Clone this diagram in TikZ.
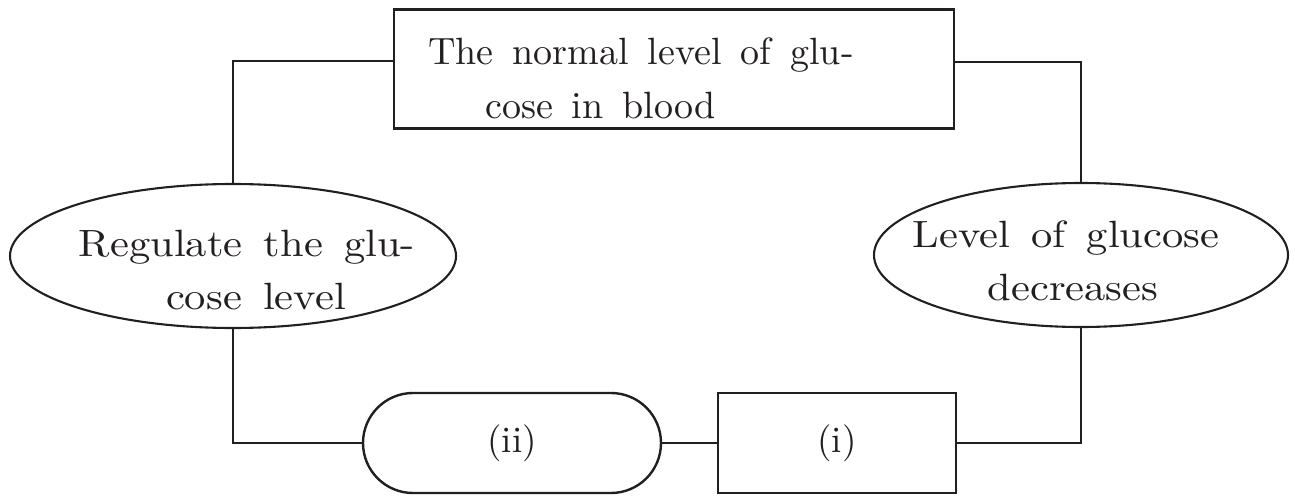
\documentclass[tikz,border=0pt]{standalone}
\usepackage{fontspec}
\setmainfont{lmroman10-regular.otf}[WordSpace=1.5]
\newfontfamily\ellfont{lmroman10-regular.otf}[WordSpace=1.5, FakeStretch=1.12]
\usetikzlibrary{shapes.geometric}
\definecolor{ink}{HTML}{231F20}
\begin{document}
\begin{tikzpicture}[x=1pt,y=-1pt,
  line width=2.4pt, draw=ink, color=ink,
  bigtext/.style={font=\fontsize{38}{54}\selectfont, inner sep=0pt},
  elltext/.style={font=\ellfont\fontsize{38}{53}\selectfont, inner sep=0pt},
  boxnode/.style={draw=ink, rectangle, inner sep=0pt, line width=2.5pt},
  ellnode/.style={draw=ink, ellipse, inner sep=0pt, line width=2.1pt},
  stadium/.style={draw=ink, rectangle, rounded corners=50pt, inner sep=0pt, line width=2.4pt},
  smalltext/.style={font=\fontsize{37}{40}\selectfont},
  conn/.style={draw=ink, line width=2.4pt}]
\useasboundingbox (0,0) rectangle (1295,495);

% shapes
\node[boxnode, minimum width=560pt, minimum height=119pt] (top) at (674,69) {};
\node[ellnode, minimum width=446pt, minimum height=144pt] (reg) at (233,256) {};
\node[ellnode, minimum width=414pt, minimum height=144pt] (dec) at (1081,255) {};
\node[stadium, minimum width=298pt, minimum height=100pt, smalltext] (boxii) at (512,443) {(ii)};
\node[boxnode, minimum width=238pt, minimum height=100pt, smalltext] (boxi) at (837,443) {(i)};

% texts (base anchor = baseline of the last line)
\node[bigtext, align=left, anchor=base west] (toptext) at (427,118)
  {The normal level of glu-\\\hspace*{57pt}cose in blood};
\node[elltext, align=center, anchor=base] (regtext) at (247,309)
  {Regulate the glu-\\\hspace*{18pt}cose level};
\node[elltext, align=center, anchor=base] (dectext) at (1066,300)
  {Level of glucose\\\hspace*{14pt}decreases};

% connectors
\draw[conn] ([yshift=8pt]top.west) -| (reg.north);
\draw[conn] ([yshift=7pt]top.east) -| (dec.north);
\draw[conn] (reg.south) |- (boxii.west);
\draw[conn] (boxii.east) -- (boxi.west);
\draw[conn] (boxi.east) -| (dec.south);
\end{tikzpicture}
\end{document}
